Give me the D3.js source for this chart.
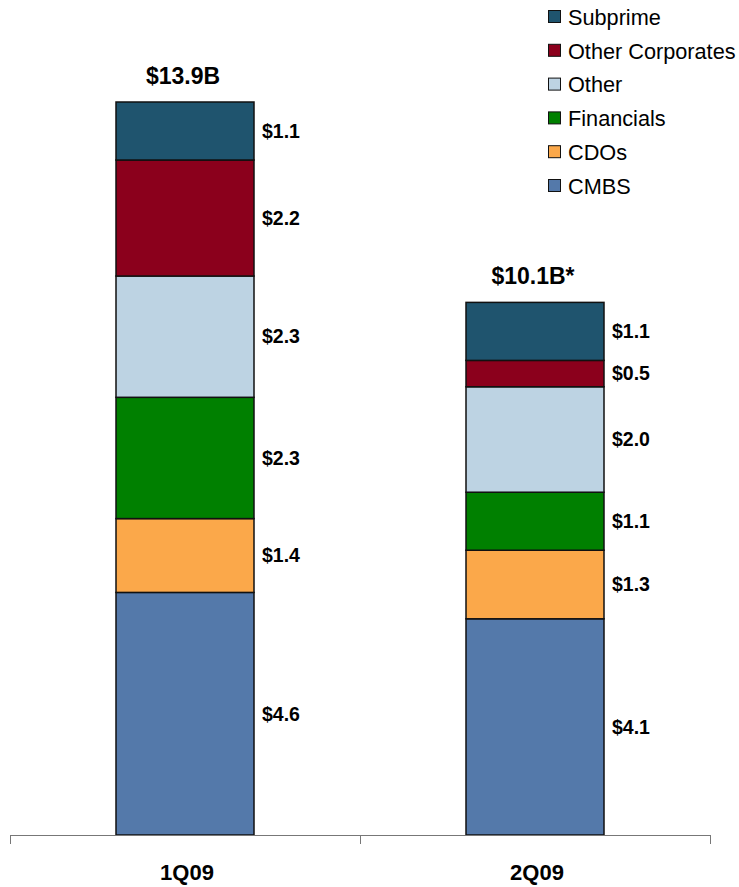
<!DOCTYPE html>
<html>
<head>
<meta charset="utf-8">
<script src="https://cdn.jsdelivr.net/npm/d3@7"></script>
<style>
  html, body { margin: 0; padding: 0; background: #fff; }
  svg { display: block; font-family: "Liberation Sans", Arial, sans-serif; }
</style>
</head>
<body>
<svg id="chart" width="739" height="887"></svg>
<script>
// Quarters shown on the x axis
const categories = ["1Q09", "2Q09"];
// Stack order, bottom to top
const series = ["CMBS", "CDOs", "Financials", "Other", "Other Corporates", "Subprime"];
// Values in $B per quarter, same order as series
const cmbs = [4.6, 4.1];
const cdos = [1.4, 1.3];
const financials = [2.3, 1.1];
const other = [2.3, 2.0];
const otherCorporates = [2.2, 0.5];
const subprime = [1.1, 1.1];
// Totals printed above each bar
const totalLabels = ["$13.9B", "$10.1B*"];
const colors = ["#5479AA", "#FBA84A", "#008000", "#BDD3E3", "#8B001C", "#1F546E"];

const seriesValues = [cmbs, cdos, financials, other, otherCorporates, subprime];
const rows = categories.map((c, i) => {
  const r = { category: c };
  series.forEach((s, j) => r[s] = seriesValues[j][i]);
  return r;
});
const stacked = d3.stack().keys(series)(rows);
const totals = rows.map(r => d3.sum(series, s => r[s]));

const svg = d3.select("#chart");
const x = d3.scaleBand().domain(categories).range([10, 710]).padding(0);
const y = d3.scaleLinear().domain([0, d3.max(totals)]).range([835, 102]);
const color = d3.scaleOrdinal().domain(series).range(colors);
const barW = 138;
const bx = c => x(c) + x.bandwidth() / 2 - barW / 2;

// Stacked segments
const layer = svg.selectAll("g.layer").data(stacked).join("g").attr("class", "layer")
  .attr("fill", d => color(d.key));
layer.selectAll("rect").data(d => d).join("rect")
  .attr("x", d => bx(d.data.category))
  .attr("y", d => y(d[1]))
  .attr("width", barW)
  .attr("height", d => y(d[0]) - y(d[1]))
  .attr("stroke", "#111")
  .attr("stroke-width", 1.5);

// Segment value labels, right of each bar
stacked.forEach(s => {
  svg.append("g").selectAll("text").data(s).join("text")
    .attr("x", d => bx(d.data.category) + barW + 8)
    .attr("y", d => (y(d[0]) + y(d[1])) / 2)
    .attr("dy", "0.35em")
    .attr("font-size", 19.5)
    .attr("font-weight", "bold")
    .attr("fill", "#000")
    .text(d => "$" + (d[1] - d[0]).toFixed(1));
});

// Totals above bars
svg.append("g").selectAll("text").data(categories).join("text")
  .attr("x", c => x(c) + x.bandwidth() / 2 - 2)
  .attr("y", (c, i) => y(totals[i]) - 18)
  .attr("text-anchor", "middle")
  .attr("font-size", 23)
  .attr("font-weight", "bold")
  .text((c, i) => totalLabels[i]);

// Category axis with ticks at band boundaries
const axis = svg.append("g");
axis.append("line")
  .attr("x1", x.range()[0]).attr("x2", x.range()[1])
  .attr("y1", 835.5).attr("y2", 835.5)
  .attr("stroke", "#777").attr("stroke-width", 1);
const bounds = categories.map(c => x(c)).concat([x.range()[1]]);
axis.selectAll("line.tick").data(bounds).join("line").attr("class", "tick")
  .attr("x1", d => d + 0.5).attr("x2", d => d + 0.5)
  .attr("y1", 835).attr("y2", 844)
  .attr("stroke", "#777").attr("stroke-width", 1);
axis.selectAll("text").data(categories).join("text")
  .attr("x", c => x(c) + x.bandwidth() / 2 + 2)
  .attr("y", 888 - 8)
  .attr("text-anchor", "middle")
  .attr("font-size", 22)
  .attr("font-weight", "bold")
  .text(c => c);

// Legend, top-down from Subprime to CMBS
const legendItems = series.slice().reverse();
const legend = svg.append("g").selectAll("g").data(legendItems).join("g")
  .attr("transform", (d, i) => `translate(548, ${17 + i * 33.8})`);
legend.append("rect")
  .attr("x", 0.5).attr("y", -6.5)
  .attr("width", 12).attr("height", 12)
  .attr("fill", d => color(d))
  .attr("stroke", "#111").attr("stroke-width", 1);
legend.append("text")
  .attr("x", 20).attr("y", 0)
  .attr("dy", "0.36em")
  .attr("font-size", 21.7)
  .text(d => d);
</script>
</body>
</html>
